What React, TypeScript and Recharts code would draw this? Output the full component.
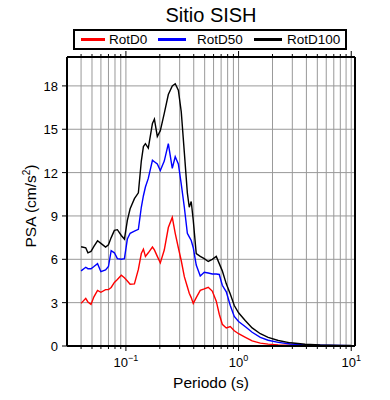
import React from "react";
import { LineChart, Line, XAxis, YAxis, CartesianGrid, Legend } from "recharts";

// periods (s) and spectral ordinates (cm/s2)
const periods = [
  0.04, 0.044, 0.046, 0.049, 0.052, 0.056, 0.06, 0.066, 0.07, 0.074, 0.079,
  0.084, 0.091, 0.097, 0.103, 0.109, 0.119, 0.129, 0.137, 0.143, 0.149, 0.158,
  0.172, 0.179, 0.19, 0.202, 0.219, 0.238, 0.258, 0.274, 0.292, 0.31, 0.33,
  0.351, 0.365, 0.38, 0.396, 0.421, 0.457, 0.496, 0.538, 0.584, 0.634, 0.674,
  0.717, 0.778, 0.844, 0.916, 1.0, 1.15, 1.32, 1.56, 1.83, 2.25, 2.88, 3.9, 5.3,
  8.0, 10.0,
];

const rotD0 = [
  2.95, 3.3, 3.05, 2.88, 3.4, 3.85, 3.72, 3.9, 3.9, 4.05, 4.4, 4.6, 4.9, 4.72,
  4.5, 4.28, 4.3, 5.3, 6.4, 6.7, 6.2, 6.45, 6.85, 6.65, 6.2, 5.75, 6.64, 8.2,
  8.9, 7.8, 6.8, 5.9, 4.8, 4.1, 3.65, 3.35, 2.95, 3.35, 3.85, 3.95, 4.06, 3.8,
  3.1, 2.2, 1.5, 1.25, 1.35, 1.05, 0.85, 0.6, 0.35, 0.2, 0.13, 0.08, 0.05, 0.03,
  0.02, 0.01, 0.01,
];

const rotD50 = [
  5.2, 5.45, 5.35, 5.35, 5.5, 5.7, 5.14, 5.26, 5.5, 6.6, 6.45, 6.05, 6.0, 6.05,
  7.4, 7.8, 7.95, 8.07, 9.6, 10.4, 11.0, 11.6, 12.85, 12.75, 12.6, 12.15, 12.8,
  14.0, 12.3, 13.1, 12.6, 11.2, 9.6, 7.8, 7.55, 7.3, 6.8, 5.6, 4.85, 5.1, 5.05,
  4.98, 4.98, 4.95, 4.2, 3.75, 2.8, 2.05, 1.7, 1.33, 0.95, 0.6, 0.4, 0.25, 0.14,
  0.08, 0.05, 0.03, 0.02,
];

const rotD100 = [
  6.87, 6.8, 6.45, 6.55, 6.9, 7.28, 7.1, 6.85, 7.0, 7.5, 8.0, 8.05, 7.65, 7.4,
  8.7, 9.5, 10.2, 10.6, 12.8, 13.8, 14.0, 13.7, 15.4, 15.7, 14.5, 14.9, 16.1,
  17.4, 18.0, 18.15, 17.7, 16.2, 13.4, 10.6, 9.6, 10.0, 8.7, 6.4, 6.2, 6.05,
  5.85, 6.0, 6.2, 5.7, 5.2, 4.3, 3.6, 2.8, 2.3, 1.75, 1.25, 0.85, 0.6, 0.38,
  0.22, 0.12, 0.07, 0.04, 0.03,
];

const seriesKeys = ["rotD0", "rotD50", "rotD100"];
const seriesNames = ["RotD0", "RotD50", "RotD100"];
const seriesColors = ["#ff0000", "#0000ff", "#000000"];

const xTicks = [
  0.04, 0.05, 0.06, 0.07, 0.08, 0.09, 0.1, 0.2, 0.3, 0.4, 0.5, 0.6, 0.7, 0.8,
  0.9, 1, 2, 3, 4, 5, 6, 7, 8, 9, 10,
];
const decadeTicks = [0.1, 1, 10];
const decadeExponents = ["\u22121", "0", "1"];
const yTicks = [0, 3, 6, 9, 12, 15, 18];

const data = periods.map((p, i) => ({
  period: p,
  rotD0: rotD0[i],
  rotD50: rotD50[i],
  rotD100: rotD100[i],
}));

const FONT = "'Liberation Sans', Arial, Helvetica, sans-serif";

const BottomTick = ({ x, y, payload }: any) => {
  const idx = decadeTicks.indexOf(payload.value);
  const major = idx >= 0;
  return (
    <g>
      <line x1={x} y1={y} x2={x} y2={y + (major ? 5 : 3)} stroke="#000" />
      {major && (
        <text x={x} y={y + 21} textAnchor="middle" fontSize={13} fill="#000" fontFamily={FONT}>
          10
          <tspan dy={-6} fontSize={9}>
            {decadeExponents[idx]}
          </tspan>
        </text>
      )}
    </g>
  );
};

const TopTick = ({ x, y, payload }: any) => {
  const major = decadeTicks.indexOf(payload.value) >= 0;
  return <line x1={x} y1={y} x2={x} y2={y - (major ? 6 : 3)} stroke="#000" />;
};

const LeftTick = ({ x, y, payload }: any) => (
  <g>
    <line x1={x} y1={y} x2={x - 5} y2={y} stroke="#000" />
    <text x={x - 9} y={y + 5} textAnchor="end" fontSize={13} fill="#000" fontFamily={FONT}>
      {payload.value}
    </text>
  </g>
);

const RightTick = ({ x, y }: any) => (
  <line x1={x} y1={y} x2={x + 5} y2={y} stroke="#000" />
);

const LegendBox = () => {
  const swatchLeft = [6, 83, 179];
  const swatchWidth = [24, 28, 28];
  const textLeft = [34, 122, 212];
  return (
    <div
      style={{
        position: "relative",
        width: 274,
        height: 21,
        border: "2px solid #000",
        boxSizing: "border-box",
        background: "#fff",
        fontFamily: FONT,
        fontSize: 13.5,
      }}
    >
      {seriesNames.map((name, i) => (
        <React.Fragment key={name}>
          <div
            style={{
              position: "absolute",
              left: swatchLeft[i],
              top: 7,
              width: swatchWidth[i],
              height: 3,
              background: seriesColors[i],
            }}
          />
          <div style={{ position: "absolute", left: textLeft[i], top: 1, lineHeight: "16px" }}>
            {name}
          </div>
        </React.Fragment>
      ))}
    </div>
  );
};

export default function App() {
  return (
    <div style={{ position: "absolute", left: 0, top: 0, width: 390, height: 400, background: "#fff" }}>
      <div
        style={{
          position: "absolute",
          left: 67,
          width: 288,
          top: 3,
          textAlign: "center",
          fontFamily: FONT,
          fontSize: 20,
          lineHeight: "24px",
        }}
      >
        Sitio SISH
      </div>
      <LineChart
        width={390}
        height={400}
        data={data}
        margin={{ top: 47, right: 25, bottom: 44, left: 57 }}
      >
        <CartesianGrid
          xAxisId="bottom"
          yAxisId="left"
          stroke="#999"
          strokeWidth={1}
          horizontalValues={yTicks}
          verticalValues={xTicks}
        />
        <XAxis
          xAxisId="bottom"
          dataKey="period"
          type="number"
          scale="log"
          domain={[0.03, 10.8]}
          allowDataOverflow
          ticks={xTicks}
          interval={0}
          height={10}
          tickSize={0}
          tickMargin={0}
          tick={<BottomTick />}
          axisLine={{ stroke: "#000", strokeWidth: 2 }}
          label={{
            content: () => (
              <text x={211} y={388} textAnchor="middle" fontSize={15.5} fill="#000" fontFamily={FONT}>
                Periodo (s)
              </text>
            ),
          }}
        />
        <XAxis
          xAxisId="top"
          orientation="top"
          dataKey="period"
          type="number"
          scale="log"
          domain={[0.03, 10.8]}
          allowDataOverflow
          ticks={xTicks}
          interval={0}
          height={10}
          tickSize={0}
          tickMargin={0}
          tick={<TopTick />}
          axisLine={{ stroke: "#000", strokeWidth: 2 }}
        />
        <YAxis
          yAxisId="left"
          type="number"
          domain={[0, 20]}
          ticks={yTicks}
          interval={0}
          width={10}
          tickSize={0}
          tickMargin={0}
          tick={<LeftTick />}
          axisLine={{ stroke: "#000", strokeWidth: 2 }}
          label={{
            content: () => (
              <text
                x={36}
                y={206}
                transform="rotate(-90 36 206)"
                textAnchor="middle"
                fontSize={15.5}
                fill="#000"
                fontFamily={FONT}
              >
                PSA (cm/s
                <tspan dy={-6} fontSize={10}>
                  2
                </tspan>
                <tspan dy={6}>)</tspan>
              </text>
            ),
          }}
        />
        <YAxis
          yAxisId="right"
          orientation="right"
          type="number"
          domain={[0, 20]}
          ticks={yTicks}
          interval={0}
          width={10}
          tickSize={0}
          tickMargin={0}
          tick={<RightTick />}
          axisLine={{ stroke: "#000", strokeWidth: 2 }}
        />
        <Legend
          layout="vertical"
          align="center"
          verticalAlign="middle"
          wrapperStyle={{ top: 29, left: 73, width: 274, height: 21 }}
          content={() => <LegendBox />}
        />
        {seriesKeys.map((key, i) => (
          <Line
            key={key}
            xAxisId="bottom"
            yAxisId="left"
            type="linear"
            dataKey={key}
            name={seriesNames[i]}
            stroke={seriesColors[i]}
            strokeWidth={1.4}
            dot={false}
            activeDot={false}
            isAnimationActive={false}
          />
        ))}
      </LineChart>
    </div>
  );
}
